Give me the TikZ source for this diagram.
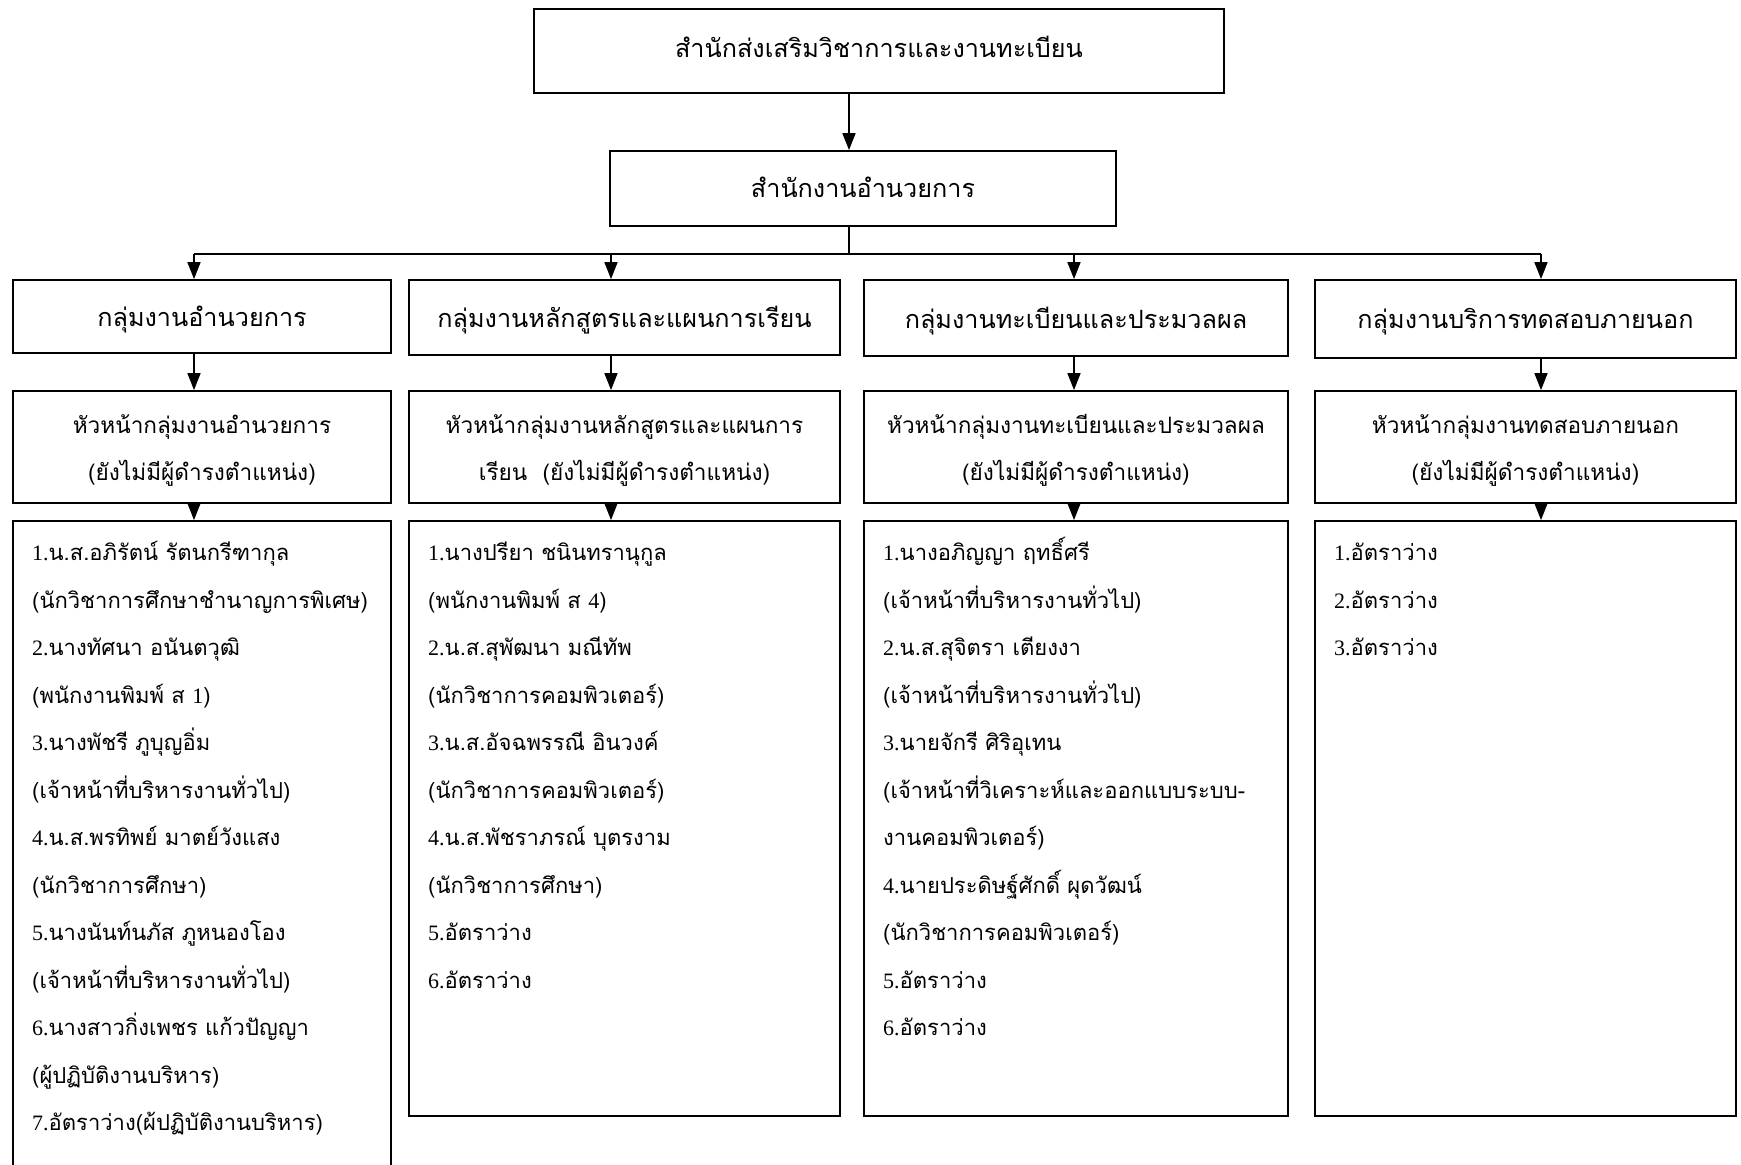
\documentclass[tikz,border=0pt]{standalone}
\usepackage{fontspec}
\newfontfamily\thaifont[Script=Thai]{Loma}
\newfontfamily\latfont{Liberation Serif}
\newcommand\dg[1]{{\latfont #1}}
\usetikzlibrary{arrows.meta}
\tikzset{
  box/.style={draw=black, line width=1.8pt, rectangle, inner sep=0pt},
  conn/.style={line width=1.6pt, draw=black},
  arr/.style={conn, -{Triangle[length=17pt,width=13pt]}},
  bigtxt/.style={font=\thaifont\fontsize{25.2}{30}\selectfont, inner sep=0pt},
  midtxt/.style={font=\thaifont\fontsize{22.6}{47}\selectfont, align=center, inner sep=0pt},
  listtxt/.style={font=\thaifont\fontsize{22}{26}\selectfont, anchor=base west, inner sep=0pt},
}
\begin{document}
\begin{tikzpicture}[x=1pt,y=-1pt]
\useasboundingbox (0,0) rectangle (1741,1165);
\clip (0,0) rectangle (1741,1165);
% top levels
\node[box, minimum width=690pt, minimum height=84pt] (T) at (879,51) {};
\node[bigtxt] (Tt) at (879,46.5) {สำนักส่งเสริมวิชาการและงานทะเบียน};
\node[box, minimum width=506pt, minimum height=75pt] (O) at (863,188.5) {};
\node[bigtxt] (Ot) at (863,187.5) {สำนักงานอำนวยการ};
% level 3
\node[box, minimum width=378pt, minimum height=73pt] (G1) at (202,316.5) {};
\node[box, minimum width=431pt, minimum height=75pt] (G2) at (624.5,317.5) {};
\node[box, minimum width=424pt, minimum height=76pt] (G3) at (1076,318) {};
\node[box, minimum width=421pt, minimum height=78pt] (G4) at (1525.5,319) {};
\node[bigtxt] (G1t) at ([yshift=-3pt]G1.center) {กลุ่มงานอำนวยการ};
\node[bigtxt] (G2t) at ([yshift=-3pt]G2.center) {กลุ่มงานหลักสูตรและแผนการเรียน};
\node[bigtxt] (G3t) at ([yshift=-3pt]G3.center) {กลุ่มงานทะเบียนและประมวลผล};
\node[bigtxt] (G4t) at ([yshift=-3pt]G4.center) {กลุ่มงานบริการทดสอบภายนอก};
% level 4
\node[box, minimum width=378pt, minimum height=112pt] (H1) at (202,447) {};
\node[box, minimum width=431pt, minimum height=112pt] (H2) at (624.5,447) {};
\node[box, minimum width=424pt, minimum height=112pt] (H3) at (1076,447) {};
\node[box, minimum width=421pt, minimum height=112pt] (H4) at (1525.5,447) {};
\node[midtxt] (H1t) at ([yshift=-3.5pt]H1.center) {หัวหน้ากลุ่มงานอำนวยการ\\(ยังไม่มีผู้ดำรงตำแหน่ง)};
\node[midtxt] (H2t) at ([yshift=-3.5pt]H2.center) {หัวหน้ากลุ่มงานหลักสูตรและแผนการ\\เรียน~~(ยังไม่มีผู้ดำรงตำแหน่ง)};
\node[midtxt] (H3t) at ([yshift=-3.5pt]H3.center) {หัวหน้ากลุ่มงานทะเบียนและประมวลผล\\(ยังไม่มีผู้ดำรงตำแหน่ง)};
\node[midtxt] (H4t) at ([yshift=-3.5pt]H4.center) {หัวหน้ากลุ่มงานทดสอบภายนอก\\(ยังไม่มีผู้ดำรงตำแหน่ง)};
% level 5
\node[box, minimum width=378pt, minimum height=664pt] (L1) at (202,853) {};
\node[box, minimum width=431pt, minimum height=595pt] (L2) at (624.5,818.5) {};
\node[box, minimum width=424pt, minimum height=595pt] (L3) at (1076,818.5) {};
\node[box, minimum width=421pt, minimum height=595pt] (L4) at (1525.5,818.5) {};
\foreach \t [count=\i] in {{\dg{1.}น.ส.อภิรัตน์ รัตนกรีฑากุล},{(นักวิชาการศึกษาชำนาญการพิเศษ)},{\dg{2.}นางทัศนา อนันตวุฒิ},{(พนักงานพิมพ์ ส \dg{1})},{\dg{3.}นางพัชรี ภูบุญอิ่ม},{(เจ้าหน้าที่บริหารงานทั่วไป)},{\dg{4.}น.ส.พรทิพย์ มาตย์วังแสง},{(นักวิชาการศึกษา)},{\dg{5.}นางนันท์นภัส ภูหนองโอง},{(เจ้าหน้าที่บริหารงานทั่วไป)},{\dg{6.}นางสาวกิ่งเพชร แก้วปัญญา},{(ผู้ปฏิบัติงานบริหาร)},{\dg{7.}อัตราว่าง(ผ้ปฏิบัติงานบริหาร)}}
  \node[listtxt] (A\i) at (32,{560.5+47.5*(\i-1)}) {\t};
\foreach \t [count=\i] in {{\dg{1.}นางปรียา ชนินทรานุกูล},{(พนักงานพิมพ์ ส \dg{4})},{\dg{2.}น.ส.สุพัฒนา มณีทัพ},{(นักวิชาการคอมพิวเตอร์)},{\dg{3.}น.ส.อัจฉพรรณี อินวงค์},{(นักวิชาการคอมพิวเตอร์)},{\dg{4.}น.ส.พัชราภรณ์ บุตรงาม},{(นักวิชาการศึกษา)},{\dg{5.}อัตราว่าง},{\dg{6.}อัตราว่าง}}
  \node[listtxt] (B\i) at (428,{560.5+47.5*(\i-1)}) {\t};
\foreach \t [count=\i] in {{\dg{1.}นางอภิญญา ฤทธิ์ศรี},{(เจ้าหน้าที่บริหารงานทั่วไป)},{\dg{2.}น.ส.สุจิตรา เตียงงา},{(เจ้าหน้าที่บริหารงานทั่วไป)},{\dg{3.}นายจักรี ศิริอุเทน},{(เจ้าหน้าที่วิเคราะห์และออกแบบระบบ-},{งานคอมพิวเตอร์)},{\dg{4.}นายประดิษฐ์ศักดิ์ ผุดวัฒน์},{(นักวิชาการคอมพิวเตอร์)},{\dg{5.}อัตราว่าง},{\dg{6.}อัตราว่าง}}
  \node[listtxt] (C\i) at (883,{560.5+47.5*(\i-1)}) {\t};
\foreach \t [count=\i] in {{\dg{1.}อัตราว่าง},{\dg{2.}อัตราว่าง},{\dg{3.}อัตราว่าง}}
  \node[listtxt] (D\i) at (1334,{560.5+47.5*(\i-1)}) {\t};
% connectors
\coordinate (ax) at (849,0);
\coordinate (bar) at (0,254);
\coordinate (x1) at (194,0);
\coordinate (x2) at (611,0);
\coordinate (x3) at (1074,0);
\coordinate (x4) at (1541,0);
\draw[arr] (T.south -| ax) -- (O.north -| ax);
\draw[conn] (O.south -| ax) -- (ax |- bar);
\draw[conn] (x1 |- bar) -- (x4 |- bar);
\foreach \k in {1,2,3,4} {
  \draw[arr] (x\k |- bar) -- (G\k.north -| x\k);
  \draw[arr] (G\k.south -| x\k) -- (H\k.north -| x\k);
  \draw[arr] (H\k.south -| x\k) -- (L\k.north -| x\k);
}
\end{tikzpicture}
\end{document}
